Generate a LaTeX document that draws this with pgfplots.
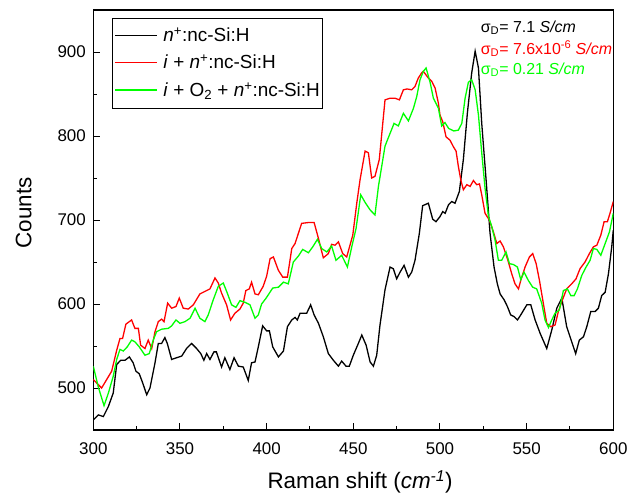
\documentclass[border=0pt]{standalone}
\usepackage{fontspec}
\setmainfont{Liberation Sans}
\usepackage{pgfplots}
\pgfplotsset{compat=1.18}
\definecolor{limeg}{RGB}{0,255,0}
\newcommand{\legline}[1]{\textcolor{#1}{\rule[0.3em]{42bp}{1.3bp}}\hspace{6bp}}
\begin{document}
\begin{tikzpicture}
\useasboundingbox (-93.3bp,-63bp) rectangle (544.7bp,430bp);
\begin{axis}[
  at={(0,0)}, anchor=south west,
  scale only axis, width=520bp, height=420bp,
  xmin=300, xmax=600, ymin=450, ymax=950,
  xtick={300,350,...,600}, ytick={500,600,...,900},
  minor tick num=1,
  tick align=inside, xtick pos=bottom, ytick pos=left,
  major tick length=7bp, minor tick length=4bp,
  axis line style={line width=1.1bp}, every tick/.style={line width=1bp, black},
  /pgf/number format/assume math mode=true,
  ticklabel style={font=\fontsize{17}{20}\selectfont},
  xticklabel style={yshift=-9bp},
  yticklabel style={xshift=-4bp},
  xlabel={Raman shift (\textit{cm}\textsuperscript{\textit{-1}})},
  ylabel={Counts},
  every axis x label/.style={at={(axis description cs:0.513,-0.124)}, anchor=center, font=\fontsize{22.5}{26}\selectfont},
  every axis y label/.style={at={(axis description cs:-0.134,0.517)}, anchor=center, rotate=90, font=\fontsize{22.5}{26}\selectfont},
]
\addplot[black, line width=1.3bp] coordinates {
(300,462)(302.9,468)(305.8,466)(308.7,478)(311.5,494)(313.5,528)(315.8,533)(318.3,533)(320.8,537)(323,530)(324.6,520)(326.5,517)(328.5,506)(330.8,492)(332.7,500)(335.6,530)(337.5,553)(339.4,553)(341.3,560)(342.7,553)(345.2,534)(348,536)(351,538)(353.8,547)(356.7,553)(359.6,547)(362,541)(363.8,533)(365.4,541)(367.3,534)(369.6,543)(371,543)(374,525)(375.9,536)(378.8,522)(381.2,536)(383.7,526)(386.5,525)(389.4,509)(391.3,530)(393.3,531)(395.2,549)(397.7,574)(400,568)(401.6,568)(403.5,549)(406.8,537)(409.7,544)(412,573)(414.5,581)(416.4,584)(417.7,581)(419.3,589)(423.1,589)(425.4,599)(427.4,587)(429.9,577)(432.7,561)(435.6,541)(438.5,533)(441.4,526)(443.3,532)(445.8,526)(447.7,526)(450,539)(452.9,553)(454.9,563)(457.4,551)(459.7,531)(461.6,526)(463.5,539)(465.4,575)(468.3,617)(471.2,644)(473.1,642)(475,630)(477,638)(479.3,646)(481.8,632)(483.7,638)(485.6,652)(488.1,684)(490,717)(493.3,720)(495.8,701)(497.7,698)(500,704)(501.6,710)(503,708)(504.9,718)(506.8,722)(508.7,720)(511.2,734)(513.5,772)(515.8,827)(518.3,875)(520.3,901)(522.2,881)(524.1,815)(526.6,748)(528.9,684)(531.2,644)(533.1,624)(534.7,612)(537,605)(538.9,597)(540.8,587)(542.8,585)(544.7,581)(546.6,587)(550.1,599)(552.4,599)(554.9,581)(557.8,565)(561.6,547)(564.5,569)(567.4,595)(570.3,607)(573.1,573)(576,555)(578.3,541)(580.4,557)(582.8,561)(584.7,573)(587,591)(589.5,591)(591.4,595)(593.3,610)(595.3,614)(597.2,636)(599.1,668)(600,688)
};
\addplot[red, line width=1.3bp] coordinates {
(300,510)(304.8,500)(307.7,510)(310.6,520)(313.5,545)(315.4,559)(316.9,559)(318.8,576)(322.1,581)(324,571)(326,571)(327.3,551)(329.8,547)(331.7,557)(333.7,547)(335.6,567)(337.5,579)(339.4,582)(340.8,579)(342.9,601)(345.2,595)(347.7,597)(349.6,607)(351.9,595)(354.8,594)(357.7,599)(361.5,612)(364.4,615)(367.3,618)(370.2,631)(372.1,625)(374,613)(376.9,599)(379.2,581)(381.7,589)(384.6,594)(386.5,601)(388,616)(390,618)(391.3,626)(393.3,612)(395.2,611)(398,621)(400,633)(402,654)(403.9,656)(406.8,640)(409.3,632)(412,632)(414.5,666)(416.4,672)(420.2,696)(424.1,697)(427.4,697)(429.9,678)(432.7,655)(435.6,660)(437.5,671)(439.5,670)(441.4,674)(443.9,660)(446.2,656)(449.7,682)(452,720)(453.9,748)(456.8,782)(458.7,780)(460.6,750)(462.5,752)(465,772)(467,815)(468.3,843)(471.2,845)(474.1,845)(476.6,843)(478.9,855)(481,856)(483.7,855)(485.6,859)(487.5,869)(489.4,875)(490.4,877)(493.3,869)(495.3,865)(497.2,857)(499.1,839)(500,825)(501.6,817)(503.5,799)(505.8,795)(507.8,787)(509.3,782)(510.6,764)(512,748)(513.5,736)(515.5,742)(517.4,740)(519.3,747)(521.2,742)(522.8,743)(524.1,730)(526,708)(528.5,700)(530.8,686)(532.8,672)(534.7,675)(536.6,668)(538.9,654)(541.4,636)(543.3,624)(545.3,618)(546.6,628)(549.1,644)(551.6,656)(553.5,660)(555.5,648)(557.4,628)(559.7,600)(561.6,577)(563.9,573)(566.4,575)(568.3,591)(570.3,603)(573.1,618)(576,624)(578.5,630)(580.8,642)(583.7,650)(586.2,660)(588.5,668)(590.5,670)(592.8,682)(594.7,698)(596.6,698)(598.1,708)(600,722)
};
\addplot[limeg, line width=1.3bp] coordinates {
(300,526)(302.9,501)(306.2,479)(308.7,494)(311.5,514)(313.5,534)(315.4,546)(317.3,544)(319.6,549)(322.1,557)(324,555)(326.5,549)(329.8,539)(332.3,541)(334.6,557)(336.5,567)(339.4,570)(343.3,571)(345.2,574)(347.7,581)(350,577)(352.9,579)(355.8,583)(358.7,595)(361.5,583)(364.4,579)(366.3,587)(369.2,605)(372.1,621)(375,625)(377.3,613)(379.8,599)(382.3,596)(384.6,604)(387.5,602)(390.4,599)(393.3,583)(395.2,587)(397.1,600)(399.7,607)(403.5,619)(406.8,620)(409.7,626)(412.5,624)(415.4,650)(418.3,657)(420.8,665)(424.1,661)(426.6,668)(429.3,677)(431.8,666)(434.7,662)(437.5,669)(440,652)(443.3,658)(446.6,644)(449.1,668)(451.6,690)(454.3,730)(456.8,721)(459.7,712)(462.5,706)(464.5,740)(468.3,788)(471.2,803)(473.5,815)(476,812)(478.9,827)(481.8,818)(484.7,833)(486.6,847)(488.5,867)(490.4,877)(492,881)(494.3,864)(496.2,845)(497.2,841)(499.1,833)(501,812)(502.9,816)(505,809)(508,806)(510.6,807)(512.6,815)(514.5,845)(516.4,864)(518.3,867)(520.3,855)(522.2,825)(524.1,780)(526,738)(528,704)(529.9,692)(531.8,676)(533.7,652)(535.6,652)(538.1,662)(540.1,648)(542.4,647)(544.7,644)(546.6,629)(548.5,638)(551,628)(553.5,620)(555.8,618)(558.7,601)(560.6,581)(562.6,572)(564.5,581)(566.4,589)(568.9,593)(571.2,616)(573.5,618)(575.5,610)(577.4,610)(579.3,618)(581.8,634)(584.3,644)(586.6,652)(588.5,666)(590.5,665)(592.8,658)(595.3,672)(597.8,686)(600,708)
};
\node[draw=black, line width=0.8bp, fill=white, anchor=north west, inner xsep=3bp, inner ysep=4bp,
  font=\fontsize{19}{22}\selectfont] at (axis description cs:0.036,0.981) {%
  \renewcommand{\arraystretch}{1.25}%
  \begin{tabular}{@{}l@{}}
  \legline{black}\textit{n}\textsuperscript{+}:nc-Si:H\\
  \legline{red}\textit{i} + \textit{n}\textsuperscript{+}:nc-Si:H\\
  \legline{limeg}\textit{i} + O\textsubscript{2} + \textit{n}\textsuperscript{+}:nc-Si:H
  \end{tabular}};
\node[anchor=west, inner sep=0pt, font=\fontsize{16}{19}\selectfont, text=black] at (axis cs:523.5,929) {σ\textsubscript{D}= 7.1 \textit{S/cm}};
\node[anchor=west, inner sep=0pt, font=\fontsize{16}{19}\selectfont, text=red] at (axis cs:523.5,904) {σ\textsubscript{D}= 7.6x10\textsuperscript{-6} \textit{S/cm}};
\node[anchor=west, inner sep=0pt, font=\fontsize{16}{19}\selectfont, text=limeg] at (axis cs:523.5,879) {σ\textsubscript{D}= 0.21 \textit{S/cm}};
\end{axis}
\end{tikzpicture}
\end{document}
